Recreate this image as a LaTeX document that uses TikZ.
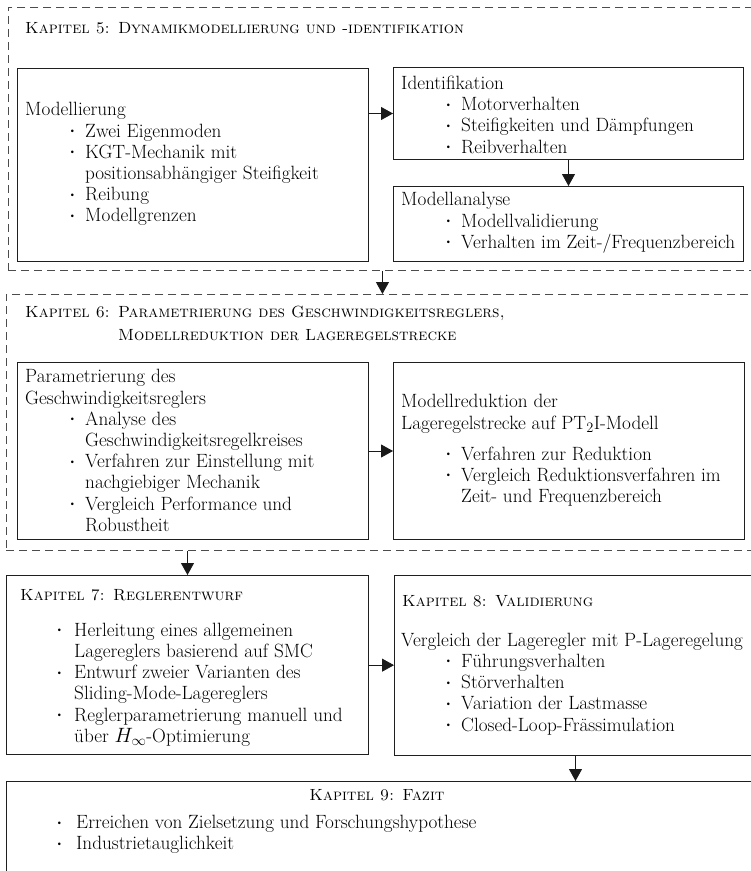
\documentclass[tikz,border=0pt]{standalone}
\usetikzlibrary{arrows.meta}
\newcommand\bodyfont{\fontsize{19.2}{21.2}\selectfont}
\newcommand\titlefont{\fontsize{16.2}{18}\selectfont\scshape}
\newcommand\bl[1][43pt]{\strut\hspace*{#1}\makebox[\dimexpr60pt-#1\relax][l]{\raisebox{0.3ex}{\scalebox{0.62}{\textbullet}}}}
\newcommand\cl{\strut\hspace*{60pt}}
\tikzset{
  frame/.style={draw=black!70, line width=0.9pt, dash pattern=on 8pt off 5pt, inner sep=0pt, anchor=north west},
  boxx/.style={draw=black!88, line width=1pt, inner sep=0pt, anchor=north west},
  txt/.style={anchor=north west, inner sep=0pt, align=left, font=\bodyfont},
  ttl/.style={anchor=base west, inner sep=0pt, font=\titlefont},
  arr/.style={draw=black!90, line width=0.9pt, -{Triangle[length=12pt,width=13pt]}},
}
\begin{document}
\begin{tikzpicture}[x=1pt,y=-1pt]
\useasboundingbox (0,0) rectangle (751,871);
\clip (0,0) rectangle (751,871);
\fill[white] (0,0) rectangle (751,871);
% chapter 5 frame
\node (k5) [frame, minimum width=748pt, minimum height=263pt] at (8,7) {};
\node (t5) [ttl] at (25,33.5) {Kapitel 5: Dynamikmodellierung und -identifikation};
\node (mod) [boxx, minimum width=351pt, minimum height=193pt] at (17,68) {};
\node (modt) [txt] at (25,100.9) {\strut Modellierung\\
  \bl Zwei Eigenmoden\\
  \bl KGT-Mechanik mit\\
  \cl positionsabhängiger Steifigkeit\\
  \bl Reibung\\
  \bl Modellgrenzen};
\node (ide) [boxx, minimum width=350pt, minimum height=92pt] at (393,67) {};
\node (idet) [txt] at (401,74.4) {\strut Identifikation\\
  \bl Motorverhalten\\
  \bl Steifigkeiten und Dämpfungen\\
  \bl Reibverhalten};
\node (ana) [boxx, minimum width=350pt, minimum height=75pt] at (393,186) {};
\node (anat) [txt] at (401,190.9) {\strut Modellanalyse\\
  \bl Modellvalidierung\\
  \bl Verhalten im Zeit-/Frequenzbereich};
% chapter 6 frame
\node (k6) [frame, minimum width=750pt, minimum height=256pt] at (6,294) {};
\node (t6a) [ttl] at (25,317.7) {Kapitel 6: Parametrierung des Geschwindigkeitsreglers,};
\node (t6b) [ttl] at (25,340) {\phantom{Kapitel 6: }Modellreduktion der Lageregelstrecke};
\node (par) [boxx, minimum width=351pt, minimum height=177.6pt] at (17,361.7) {};
\node (part) [txt] at (25,367.9) {\strut Parametrierung des\\
  \strut Geschwindigkeitsreglers\\
  \bl Analyse des\\
  \cl Geschwindigkeitsregelkreises\\
  \bl Verfahren zur Einstellung mit\\
  \cl nachgiebiger Mechanik\\
  \bl Vergleich Performance und\\
  \cl Robustheit};
\node (red) [boxx, minimum width=351pt, minimum height=177.6pt] at (393,361.7) {};
\node (redt) [txt] at (401,392.9) {\strut Modellreduktion der\\
  \strut Lageregelstrecke auf PT$_2$I-Modell\\[9.8pt]
  \bl Verfahren zur Reduktion\\
  \bl Vergleich Reduktionsverfahren im\\
  \cl Zeit- und Frequenzbereich};
% chapter 7
\node (k7) [boxx, minimum width=362pt, minimum height=179.3pt] at (6,575) {};
\node (t7) [ttl] at (20,600) {Kapitel 7: Reglerentwurf};
\node (k7t) [txt] at (14,621.2) {\bl[41pt]Herleitung eines allgemeinen\\
  \cl Lagereglers basierend auf SMC\\
  \bl[41pt]Entwurf zweier Varianten des\\
  \cl Sliding-Mode-Lagereglers\\
  \bl[41pt]Reglerparametrierung manuell und\\
  \cl über $H_\infty$-Optimierung};
% chapter 8
\node (k8) [boxx, minimum width=362pt, minimum height=180pt] at (394,575) {};
\node (t8) [ttl] at (402,606.5) {Kapitel 8: Validierung};
\node (k8t) [txt] at (401,631.2) {\strut Vergleich der Lageregler mit P-Lageregelung\\
  \bl Führungsverhalten\\
  \bl Störverhalten\\
  \bl Variation der Lastmasse\\
  \bl Closed-Loop-Frässimulation};
% chapter 9
\node (k9) [boxx, minimum width=750pt, minimum height=140pt] at (6,781) {};
\node (t9) [ttl, anchor=base] at (377,800) {Kapitel 9: Fazit};
\node (k9t) [txt] at (16,813.5) {\bl[39pt]Erreichen von Zielsetzung und Forschungshypothese\\
  \bl[39pt]Industrietauglichkeit};
% arrows
\draw[arr] (mod.east |- ide.west) -- (ide.west);
\draw[arr] (ide.south) -- (ana.north);
\draw[arr] (k5.south) -- (k5.south |- k6.north);
\draw[arr] (par.east) -- (red.west);
\draw[arr] (k7.north |- k6.south) -- (k7.north);
\draw[arr] (k7.east) -- (k7.east -| k8.west);
\draw[arr] (k8.south) -- (k8.south |- k9.north);
\end{tikzpicture}
\end{document}
